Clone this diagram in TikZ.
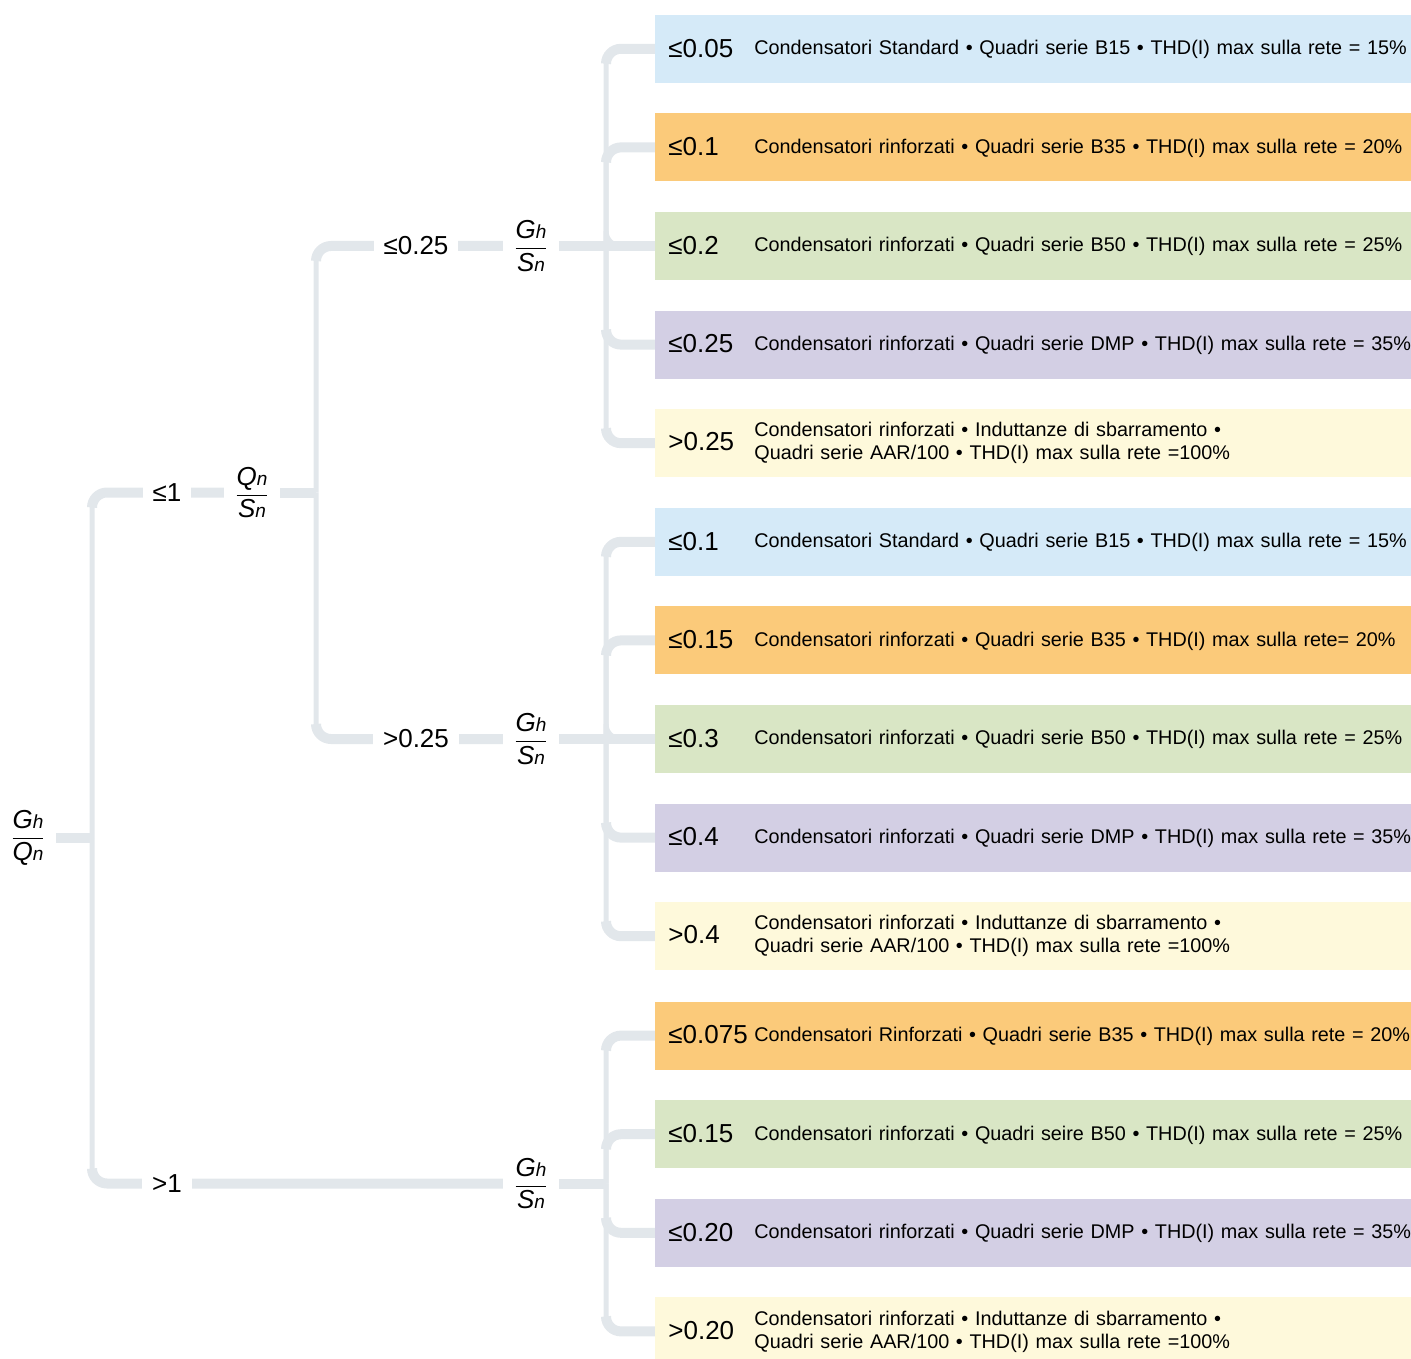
\documentclass[tikz,border=0pt]{standalone}
\usepackage{amsmath}
\usepackage{fontspec}
\setmainfont{Liberation Sans}
\usetikzlibrary{trees, backgrounds, calc}

\definecolor{railgray}{HTML}{E2E7EB}
\definecolor{skyfill}{HTML}{D5EAF8}
\definecolor{orangefill}{HTML}{FBCA7A}
\definecolor{sagefill}{HTML}{D9E6C5}
\definecolor{lilacfill}{HTML}{D3CFE4}
\definecolor{creamfill}{HTML}{FEF9DB}

\newcommand{\ratiofrac}[4]{$\dfrac{\textit{#1\fontsize{9.5}{10}\selectfont #2}}{\textit{#3\fontsize{9.5}{10}\selectfont #4}}$}
\newcommand{\leaf}[2]{\makebox[43pt][l]{\raisebox{-1.3pt}{\fontsize{13}{15}\selectfont #1}}\parbox[c]{340pt}{\fontsize{9.9}{11.5}\selectfont #2}}

\begin{document}
\begin{tikzpicture}[grow'=right,
     edge from parent/.style={draw=none},
     level 1/.style={level distance=112pt, sibling distance=345.5pt},
     level 2/.style={level distance=139.5pt, sibling distance=246.5pt},
     level 3/.style={level distance=62pt, sibling distance=49.3pt},
     fracnode/.style={fill=white, inner xsep=5pt, font=\fontsize{13}{15}\selectfont},
     cutlabel/.style={fill=white, inner xsep=5pt, font=\fontsize{13}{15}\selectfont},
     leafbox/.style={anchor=west, fill=#1, text width=383pt, inner xsep=6.5pt,
         minimum height=34pt, align=left},
     rail/.style={draw=railgray, line width=2.5pt, rounded corners=7.5pt},
     stem/.style={draw=railgray, line width=5pt, rounded corners=7.5pt}]
    \useasboundingbox (0,0) rectangle (705.5pt,-679pt);
    \node[fracnode] (root) at (14pt,-419pt) {\ratiofrac{G}{h}{Q}{n}}
     child { node[fracnode] (qs) {\ratiofrac{Q}{n}{S}{n}}
        child { node[fracnode] (ghA) {\ratiofrac{G}{h}{S}{n}}
            child { node[leafbox=skyfill]{\leaf{≤0.05}{Condensatori Standard • Quadri serie B15 • THD(I) max sulla rete = 15\%}} }
            child { node[leafbox=orangefill]{\leaf{≤0.1}{Condensatori rinforzati • Quadri serie B35 • THD(I) max sulla rete = 20\%}} }
            child { node[leafbox=sagefill]{\leaf{≤0.2}{Condensatori rinforzati • Quadri serie B50 • THD(I) max sulla rete = 25\%}} }
            child { node[leafbox=lilacfill]{\leaf{≤0.25}{Condensatori rinforzati • Quadri serie DMP • THD(I) max sulla rete = 35\%}} }
            child { node[leafbox=creamfill]{\leaf{>0.25}{Condensatori rinforzati • Induttanze di sbarramento •\\Quadri serie AAR/100 • THD(I) max sulla rete =100\%}} }
        }
        child { node[fracnode] (ghB) {\ratiofrac{G}{h}{S}{n}}
            child { node[leafbox=skyfill]{\leaf{≤0.1}{Condensatori Standard • Quadri serie B15 • THD(I) max sulla rete = 15\%}} }
            child { node[leafbox=orangefill]{\leaf{≤0.15}{Condensatori rinforzati • Quadri serie B35 • THD(I) max sulla rete= 20\%}} }
            child { node[leafbox=sagefill]{\leaf{≤0.3}{Condensatori rinforzati • Quadri serie B50 • THD(I) max sulla rete = 25\%}} }
            child { node[leafbox=lilacfill]{\leaf{≤0.4}{Condensatori rinforzati • Quadri serie DMP • THD(I) max sulla rete = 35\%}} }
            child { node[leafbox=creamfill]{\leaf{>0.4}{Condensatori rinforzati • Induttanze di sbarramento •\\Quadri serie AAR/100 • THD(I) max sulla rete =100\%}} }
        }
     }
     child { coordinate (low)
        child { node[fracnode] (ghC) {\ratiofrac{G}{h}{S}{n}}
            child { node[leafbox=orangefill]{\leaf{≤0.075}{Condensatori Rinforzati • Quadri serie B35 • THD(I) max sulla rete = 20\%}} }
            child { node[leafbox=sagefill]{\leaf{≤0.15}{Condensatori rinforzati • Quadri seire B50 • THD(I) max sulla rete = 25\%}} }
            child { node[leafbox=lilacfill]{\leaf{≤0.20}{Condensatori rinforzati • Quadri serie DMP • THD(I) max sulla rete = 35\%}} }
            child { node[leafbox=creamfill]{\leaf{>0.20}{Condensatori rinforzati • Induttanze di sbarramento •\\Quadri serie AAR/100 • THD(I) max sulla rete =100\%}} }
        }
     };

    \coordinate (j1) at (46pt,0);
    \coordinate (j2) at (158pt,0);
    \coordinate (j3) at (303pt,0);
    \coordinate (k1) at (83.5pt,0);
    \coordinate (k2) at (208pt,0);

    \node[cutlabel] (le1) at (k1 |- qs) {≤1};
    \node[cutlabel] (gt1) at (k1 |- ghC) {>1};
    \node[cutlabel] (le25) at (k2 |- ghA) {≤0.25};
    \node[cutlabel] (gt25) at (k2 |- ghB) {>0.25};

    \begin{scope}[on background layer]
        \draw[stem] (root) -- (j1 |- root);
        \draw[rail] (j1 |- root) |- (qs);
        \draw[rail] (j1 |- root) |- (ghC);
        \draw[stem] ($(j1 |- qs)+(0,-7.5pt)$) |- (qs);
        \draw[stem] ($(j1 |- ghC)+(0,7.5pt)$) |- (ghC);
        \draw[stem] (qs) -- (j2 |- qs);
        \draw[rail] (j2 |- qs) |- (ghA);
        \draw[rail] (j2 |- qs) |- (ghB);
        \draw[stem] ($(j2 |- ghA)+(0,-7.5pt)$) |- (ghA);
        \draw[stem] ($(j2 |- ghB)+(0,7.5pt)$) |- (ghB);
        \foreach \g/\k in {ghA/5, ghB/5, ghC/4} {
            \draw[stem] (\g) -- (j3 |- \g);
            \foreach \i in {1,...,\k} {
                \pgfmathsetmacro\off{sign(\i-(\k+1)/2)*7.5}
                \draw[rail] (j3 |- \g) |- (\g-\i.west);
                \ifdim\off pt=0pt
                    \draw[stem] (j3 |- \g-\i.west) -- (\g-\i.west);
                \else
                    \draw[stem] ($(j3 |- \g-\i.west)+(0,\off pt)$) |- (\g-\i.west);
                \fi
            }
        }
    \end{scope}
\end{tikzpicture}
\end{document}
